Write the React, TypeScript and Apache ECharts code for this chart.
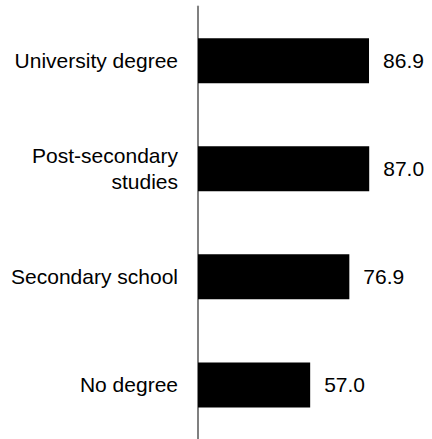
import React, { useEffect, useRef } from "react";
import * as echarts from "echarts";

const categories = ["University degree", "Post-secondary\nstudies", "Secondary school", "No degree"];
const values = [86.9, 87.0, 76.9, 57.0];

export default function App() {
  const ref = useRef<HTMLDivElement>(null);
  useEffect(() => {
    if (!ref.current) return;
    const chart = echarts.init(ref.current, undefined, { renderer: "svg" });
    const font = "'Liberation Sans', Arial, sans-serif";
    chart.setOption({
      animation: false,
      grid: { left: 198, top: 6.6, width: 196.8, height: 434.8, containLabel: false },
      xAxis: {
        type: "value",
        min: 0,
        max: 100,
        show: false,
      },
      yAxis: {
        type: "category",
        data: categories,
        inverse: true,
        axisLine: { show: true, lineStyle: { color: "#808080", width: 2 } },
        axisTick: { show: false },
        axisLabel: {
          margin: 20,
          color: "#000",
          fontSize: 21,
          fontFamily: font,
          lineHeight: 26,
          align: "right",
        },
      },
      series: [
        {
          type: "bar",
          data: values,
          barWidth: 45,
          itemStyle: { color: "#000" },
          label: {
            show: true,
            position: "right",
            distance: 14,
            color: "#000",
            fontSize: 21,
            fontFamily: font,
            formatter: (p: any) => Number(p.value).toFixed(1),
          },
        },
      ],
    });
    return () => chart.dispose();
  }, []);
  return (
    <div
      ref={ref}
      style={{ position: "absolute", left: 0, top: 0, width: 432, height: 439, background: "#fff" }}
    />
  );
}
